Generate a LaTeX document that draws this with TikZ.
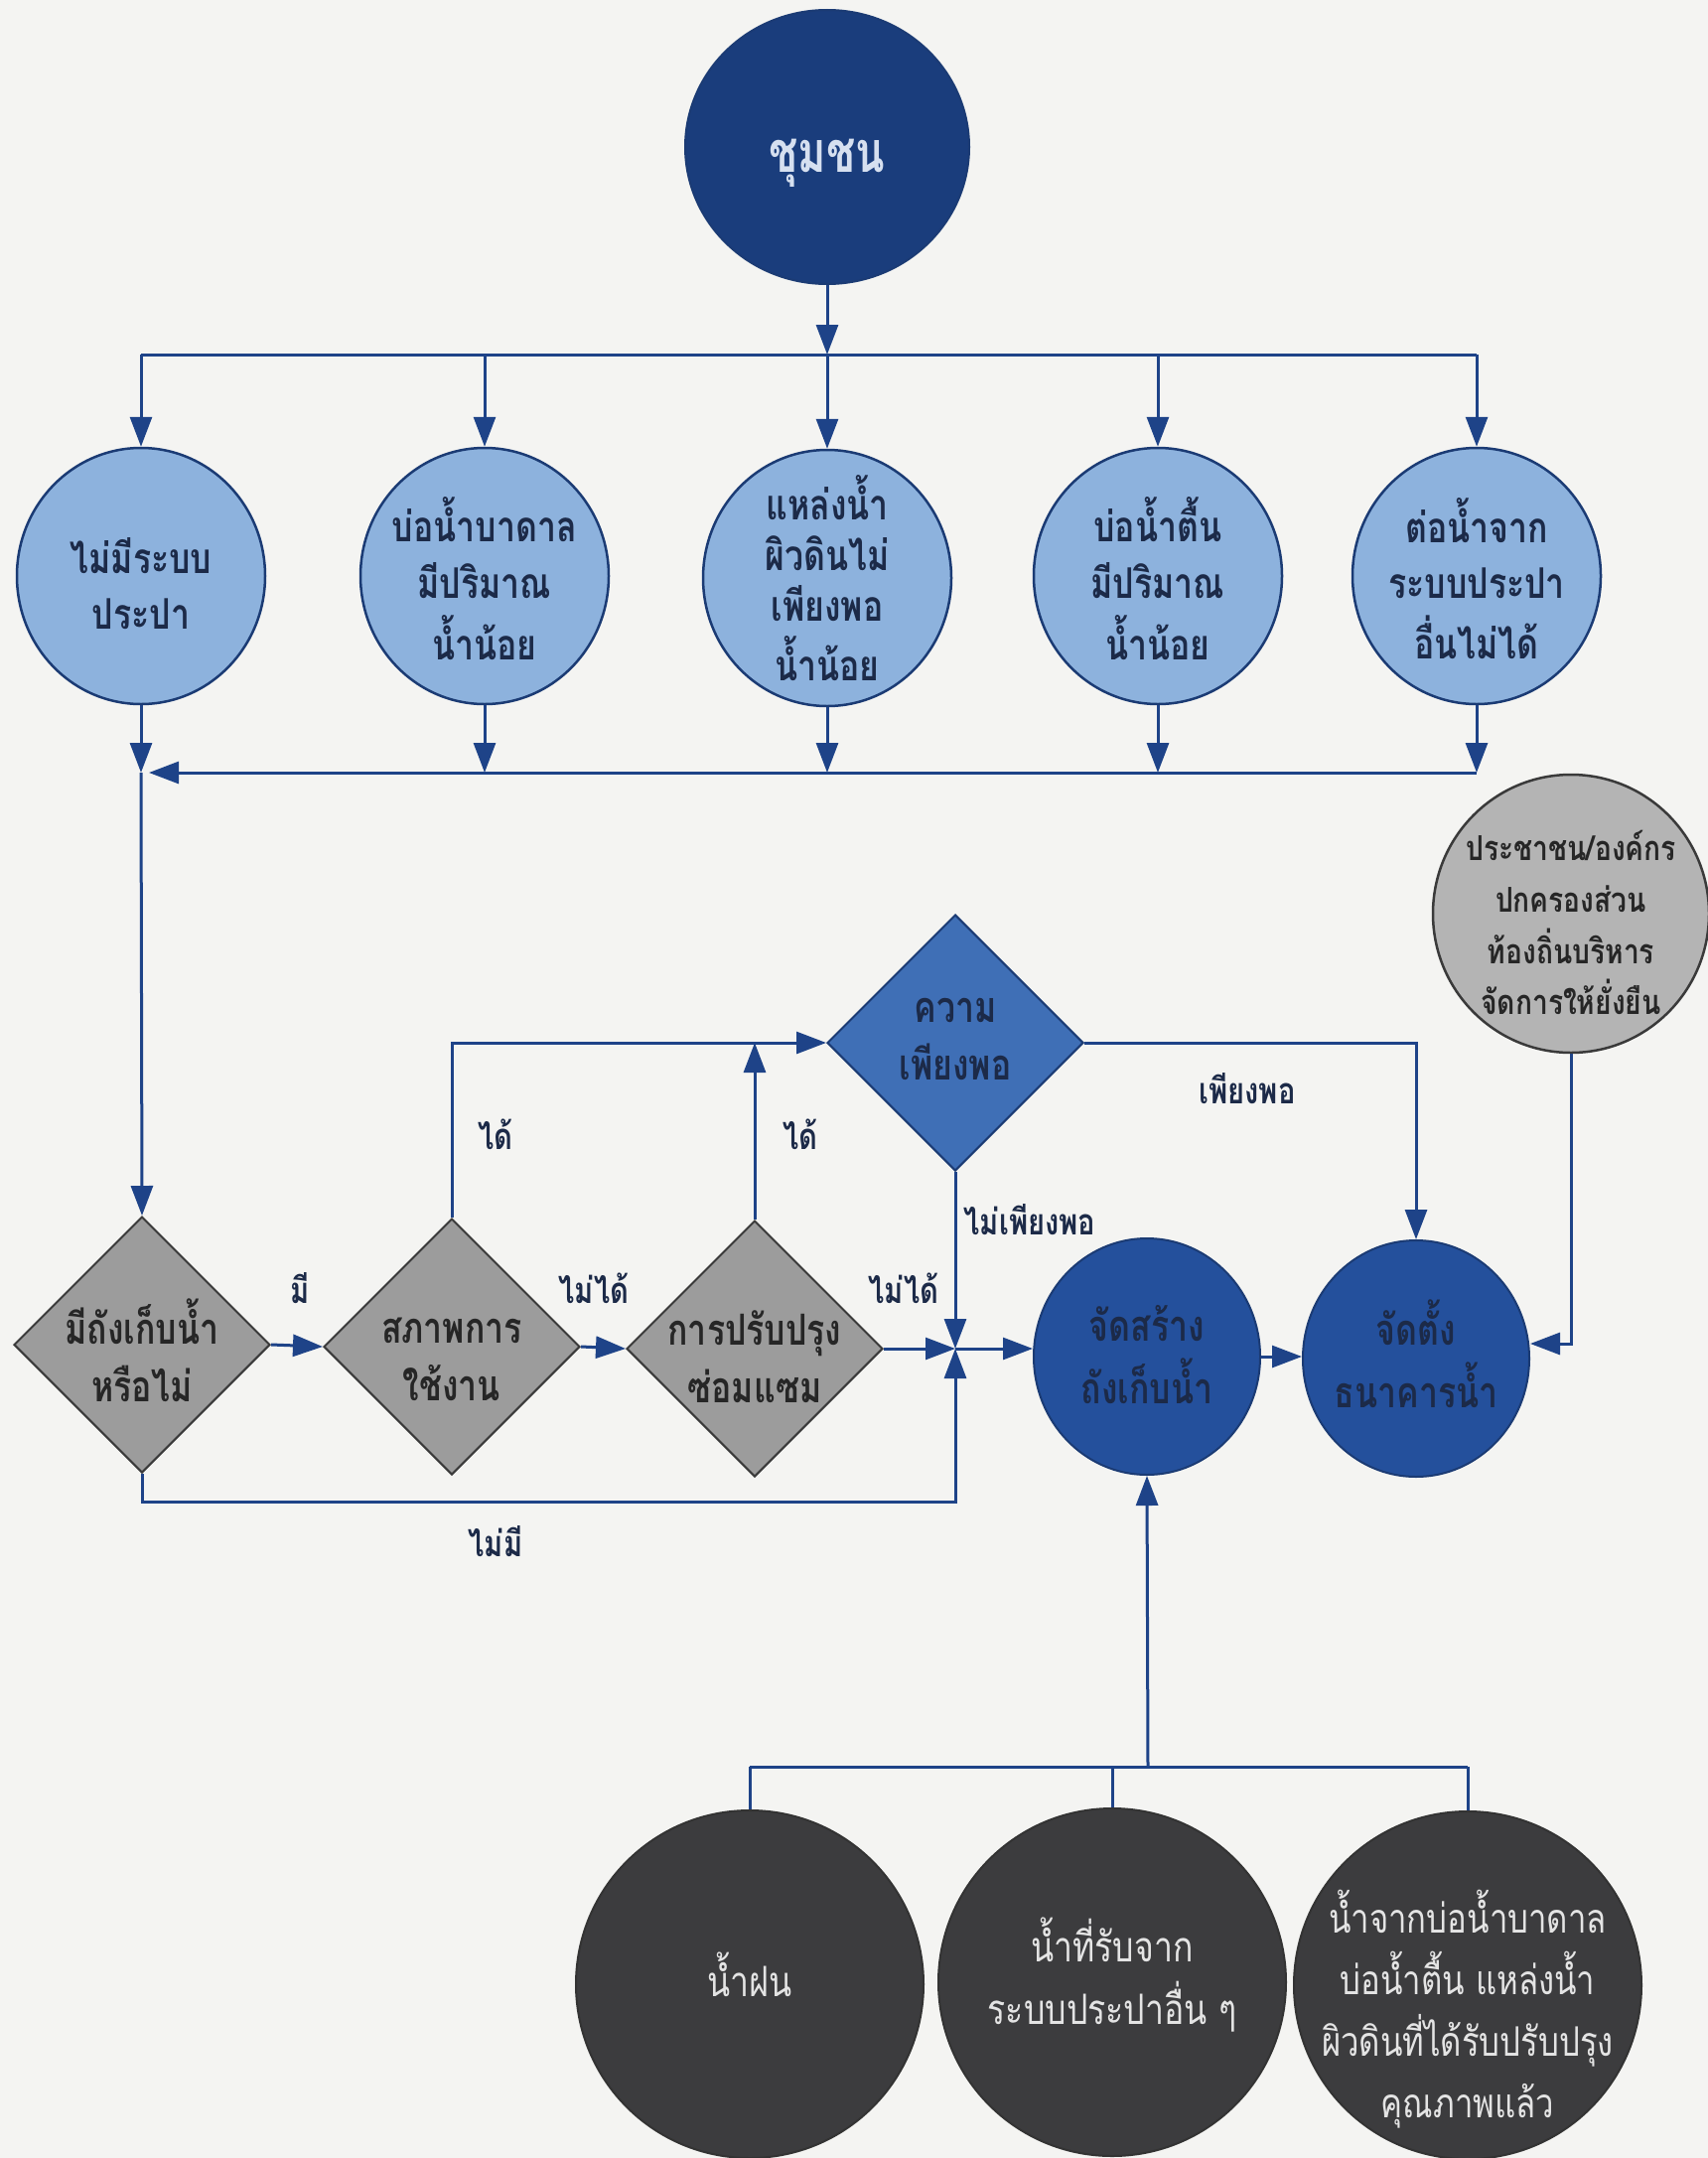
\documentclass[tikz,border=0pt]{standalone}
\usepackage{fontspec}
\usepackage{graphicx}
\newfontfamily\thai[Script=Thai]{Loma}
\usetikzlibrary{shapes.geometric,arrows.meta,calc}

\definecolor{paper}{HTML}{F4F4F2}
\definecolor{navyline}{HTML}{1E4388}
\definecolor{rimblue}{HTML}{1B3B74}
\definecolor{deepnavy}{HTML}{1A3D7C}
\definecolor{lightblue}{HTML}{8DB2DD}
\definecolor{midblue}{HTML}{3F6FB6}
\definecolor{actblue}{HTML}{24509C}
\definecolor{inkdark}{HTML}{1C2A48}
\definecolor{graybox}{HTML}{9C9C9C}
\definecolor{grayrim}{HTML}{3A3A3A}
\definecolor{graylight}{HTML}{B4B4B4}
\definecolor{charcoal}{HTML}{3C3C3E}
\definecolor{palefont}{HTML}{E4E4E4}
\definecolor{topfont}{HTML}{D6E0F0}

% condensed, slightly tall block of centred lines
\newcommand{\tallt}[2][1.18]{\scalebox{0.94}[#1]{\begin{tabular}{@{}c@{}}#2\end{tabular}}}

\begin{document}
\begin{tikzpicture}[x=1pt,y=-1pt,
  conn/.style={draw=navyline, line width=3pt, -{Triangle[length=30pt,width=22pt]}},
  wire/.style={draw=navyline, line width=3pt},
  topell/.style={ellipse, draw=rimblue, line width=2pt, fill=deepnavy,
    minimum width=286pt, minimum height=276pt, inner sep=0pt},
  bluecirc/.style={ellipse, draw=rimblue, line width=2.5pt, fill=lightblue,
    minimum width=250pt, minimum height=258pt, inner sep=0pt},
  graydia/.style={diamond, aspect=1, draw=grayrim, line width=2pt, fill=graybox,
    minimum width=258pt, minimum height=258pt, inner sep=0pt},
  bluedia/.style={diamond, aspect=1, draw=rimblue, line width=2pt, fill=midblue,
    minimum width=258pt, minimum height=258pt, inner sep=0pt},
  actcirc/.style={ellipse, draw=rimblue, line width=2pt, fill=actblue,
    minimum width=228pt, minimum height=238pt, inner sep=0pt},
  grayell/.style={ellipse, draw=grayrim, line width=2.5pt, fill=graylight,
    minimum width=278pt, minimum height=280pt, inner sep=0pt},
  darkcirc/.style={circle, draw=black!80, line width=2pt, fill=charcoal,
    minimum size=350pt, inner sep=0pt},
  txt/.style={font=\thai\bfseries\fontsize{36}{48}\selectfont, align=center,
    text=inkdark, inner sep=0pt},
  lbl/.style={font=\thai\bfseries\fontsize{31}{36}\selectfont, text=inkdark, inner sep=0pt},
]
\fill[paper] (0,0) rectangle (1720,2173);
\useasboundingbox (0,0) rectangle (1720,2173);

% community at the top
\node[topell] (com) at (833,148) {};
\node[txt, text=topfont, font=\thai\bfseries\fontsize{46}{56}\selectfont] (comt) at ($(com)+(0,12)$) {\tallt[1.25]{ชุมชน}};

% problem circles
\node[bluecirc] (r1) at (142,580) {};
\node[bluecirc] (r2) at (488,580) {};
\node[bluecirc] (r3) at (833,582) {};
\node[bluecirc] (r4) at (1166,580) {};
\node[bluecirc] (r5) at (1487,580) {};
\node[txt] (r1t) at ($(r1)+(0,14)$) {\tallt{ไม่มีระบบ\\ประปา}};
\node[txt] (r2t) at ($(r2)+(0,11)$) {\tallt{บ่อน้ำบาดาล\\มีปริมาณ\\น้ำน้อย}};
\node[txt, font=\thai\bfseries\fontsize{36}{43}\selectfont] (r3t) at ($(r3)+(0,8)$) {\tallt{แหล่งน้ำ\\ผิวดินไม่\\เพียงพอ\\น้ำน้อย}};
\node[txt] (r4t) at ($(r4)+(0,11)$) {\tallt{บ่อน้ำตื้น\\มีปริมาณ\\น้ำน้อย}};
\node[txt] (r5t) at ($(r5)+(0,11)$) {\tallt{ต่อน้ำจาก\\ระบบประปา\\อื่นไม่ได้}};

% decision diamonds
\node[graydia] (d1) at (143,1354) {};
\node[graydia] (d2) at (455,1356) {};
\node[graydia] (d3) at (760,1358) {};
\node[bluedia] (d4) at (962,1050) {};
\node[txt, text=black!85] (d1t) at ($(d1)+(0,14)$) {\tallt[1.2]{มีถังเก็บน้ำ\\หรือไม่}};
\node[txt, text=black!85] (d2t) at ($(d2)+(0,14)$) {\tallt[1.2]{สภาพการ\\ใช้งาน}};
\node[txt, text=black!85] (d3t) at ($(d3)+(0,14)$) {\tallt[1.2]{การปรับปรุง\\ซ่อมแซม}};
\node[txt] (d4t) at ($(d4)+(0,-3)$) {\tallt[1.2]{ความ\\เพียงพอ}};

% actions
\node[actcirc] (build) at (1155,1366) {};
\node[actcirc] (bank) at (1426,1368) {};
\node[txt] (buildt) at ($(build)+(0,4)$) {\tallt[1.2]{จัดสร้าง\\ถังเก็บน้ำ}};
\node[txt] (bankt) at ($(bank)+(0,4)$) {\tallt[1.2]{จัดตั้ง\\ธนาคารน้ำ}};

% local management
\node[grayell] (ppl) at (1582,920) {};
\node[txt, text=black!85, font=\thai\bfseries\fontsize{30}{45}\selectfont] (pplt) at ($(ppl)+(0,14)$) {\tallt[1.15]{ประชาชน/องค์กร\\ปกครองส่วน\\ท้องถิ่นบริหาร\\จัดการให้ยั่งยืน}};

% water sources
\node[darkcirc] (s1) at (755,1998) {};
\node[darkcirc] (s2) at (1120,1996) {};
\node[darkcirc] (s3) at (1478,1999) {};
\node[txt, text=palefont, font=\thai\fontsize{36}{54}\selectfont] (s1t) at (s1) {\tallt[1.17]{น้ำฝน}};
\node[txt, text=palefont, font=\thai\fontsize{36}{54}\selectfont] (s2t) at ($(s2)+(0,-2)$) {\tallt[1.17]{น้ำที่รับจาก\\ระบบประปาอื่น ๆ}};
\node[txt, text=palefont, font=\thai\fontsize{35}{53}\selectfont] (s3t) at ($(s3)+(0,28)$) {\tallt[1.17]{น้ำจากบ่อน้ำบาดาล\\บ่อน้ำตื้น แหล่งน้ำ\\ผิวดินที่ได้รับปรับปรุง\\คุณภาพแล้ว}};

% upper distribution bus
\coordinate (busA) at (833,357);
\draw[wire] (r1 |- busA) -- (r5 |- busA);
\draw[conn] (com.south) -- (busA);
\foreach \n in {r1,r2,r3,r4,r5} \draw[conn] (\n |- busA) -- (\n.north);

% collecting bus
\coordinate (busB) at (1487,778);
\coordinate (busBL) at (142,778);
\foreach \n in {r1,r2,r3,r4,r5} \draw[conn] (\n.south) -- (\n |- busB);
\draw[conn] (busB) -- ($(busBL)+(8,0)$);
\draw[conn] (busBL) -- (d1.north);

% decision flow
\coordinate (hub) at (962,1358);
\draw[conn] (d1.east) -- (d2.west);
\draw[conn] (d2.east) -- (d3.west);
\draw[conn] (d3.east) -- (hub);
\draw[conn] (d1.south) -- ++(0,28) -| (hub);
\draw[conn] (d2.north) |- (d4.west);
\draw[conn] (d3.north) -- (d3.north |- d4.west);
\draw[conn] (d4.south) -- (hub);
\draw[conn] (hub) -- (hub -| build.west);
\draw[conn] (d4.east) -| (bank.north);
\draw[conn] (build.east) -- (build.east -| bank.west);
\draw[conn] (ppl.south) |- ($(bank.east)+(0,-15)$);

% branch labels
\node[lbl] (lm) at (302,1297) {\scalebox{0.94}[1.18]{มี}};
\node[lbl] (lnc1) at (598,1297) {\scalebox{0.94}[1.18]{ไม่ได้}};
\node[lbl] (lc1) at (499,1142) {\scalebox{0.94}[1.18]{ได้}};
\node[lbl] (lc2) at (806,1142) {\scalebox{0.94}[1.18]{ได้}};
\node[lbl] (lnc2) at (910,1297) {\scalebox{0.94}[1.18]{ไม่ได้}};
\node[lbl] (lne) at (1037,1228) {\scalebox{0.94}[1.18]{ไม่เพียงพอ}};
\node[lbl] (len) at (1256,1096) {\scalebox{0.94}[1.18]{เพียงพอ}};
\node[lbl] (lno) at (499,1552) {\scalebox{0.94}[1.18]{ไม่มี}};

% supply tree at the bottom
\coordinate (busC) at (1156,1779);
\draw[conn] (busC) -- (build.south);
\draw[wire] (s1 |- busC) -- (s3 |- busC);
\foreach \n in {s1,s2,s3} \draw[wire] (\n |- busC) -- (\n.north);
\end{tikzpicture}
\end{document}
